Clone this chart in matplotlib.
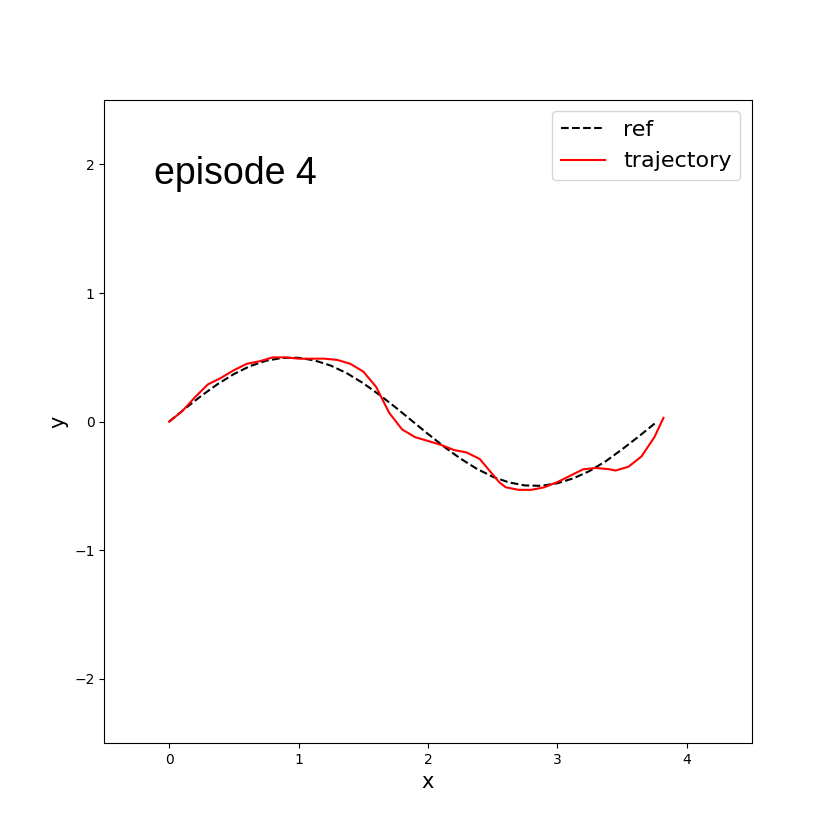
import matplotlib
matplotlib.use("Agg")
import matplotlib.pyplot as plt

ref_x = [0, 0.125, 0.25, 0.375, 0.5, 0.625, 0.75, 0.875, 1.0, 1.125, 1.25, 1.375, 1.5, 1.625, 1.75, 1.875,
         2.0, 2.125, 2.25, 2.375, 2.5, 2.625, 2.75, 2.875, 3.0, 3.125, 3.25, 3.375, 3.5, 3.625, 3.77]
ref_y = [0, 0.103, 0.202, 0.292, 0.370, 0.432, 0.474, 0.496, 0.497, 0.476, 0.436, 0.376, 0.299, 0.209, 0.111,
         0.008, -0.095, -0.195, -0.286, -0.365, -0.428, -0.472, -0.496, -0.499, -0.479, -0.440, -0.383, -0.307, -0.215, -0.118, 0.0]

traj_x = [0.0, 0.1, 0.2, 0.3, 0.4, 0.5, 0.6, 0.7, 0.8, 0.9, 1.0, 1.1, 1.2, 1.3, 1.4, 1.5, 1.6, 1.65, 1.7, 1.8,
          1.9, 2.0, 2.1, 2.2, 2.3, 2.4, 2.5, 2.55, 2.6, 2.7, 2.8, 2.9, 3.0, 3.1, 3.2, 3.3, 3.4, 3.45, 3.55,
          3.65, 3.75, 3.82]
traj_y = [0.0, 0.08, 0.19, 0.29, 0.34, 0.40, 0.45, 0.47, 0.50, 0.50, 0.49, 0.49, 0.49, 0.48, 0.45, 0.39, 0.27,
          0.17, 0.07, -0.06, -0.12, -0.15, -0.18, -0.22, -0.24, -0.29, -0.41, -0.47, -0.51, -0.53, -0.53,
          -0.51, -0.47, -0.42, -0.37, -0.36, -0.37, -0.38, -0.35, -0.27, -0.12, 0.03]

fig, ax = plt.subplots(figsize=(8.35, 8.35), dpi=100)
ax.plot(ref_x, ref_y, "k--", label="ref")
ax.plot(traj_x, traj_y, "r-", label="trajectory")
ax.set_xlim(-0.5, 4.5)
ax.set_ylim(-2.5, 2.5)
ax.set_xticks([0, 1, 2, 3, 4])
ax.set_yticks([-2, -1, 0, 1, 2])
ax.set_xlabel("x", fontsize=15)
ax.set_ylabel("y", fontsize=15)
ax.text(-0.12, 1.85, "episode 4", fontsize=27, family="Liberation Sans")
ax.legend(loc="upper right", fontsize=16)
fig.savefig("out.png", dpi=100)
